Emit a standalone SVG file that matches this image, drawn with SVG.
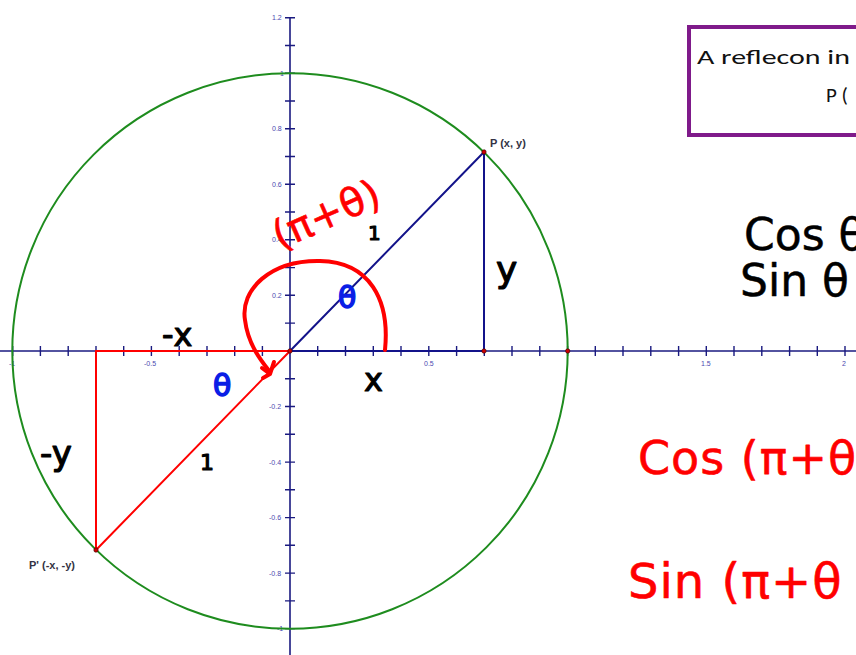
<svg xmlns="http://www.w3.org/2000/svg" width="856" height="655" viewBox="0 0 856 655">
<style>
.ax{stroke:#1a1a80;stroke-width:1.6;fill:none}
.tk{stroke:#1a1a80;stroke-width:1.4}
.tl{font-family:"Liberation Sans",Arial,sans-serif;font-size:7px;fill:#4a4ab0}
.pl{font-family:"Liberation Sans",Arial,sans-serif;font-size:11px;font-weight:bold;fill:#333344}
.hw{font-family:"DejaVu Sans","Liberation Sans",sans-serif;stroke-linejoin:round}
.blk{fill:#000;stroke:#000;stroke-width:1.2}
.red{fill:#f00;stroke:#f00;stroke-width:0.6}
.blu{fill:#0a1ee6;stroke:#0a1ee6;stroke-width:1.5}
.dot{fill:#cc0000;stroke:#330000;stroke-width:0.6}
</style>
<rect width="856" height="655" fill="#fff"/>
<g id="axes">
<line class="ax" x1="0" y1="351" x2="856" y2="351"/>
<line class="ax" x1="290" y1="17" x2="290" y2="655"/>
<path class="tk" d="M12.7 346v10M40.4 346v10M68.2 346v10M96 346v10M123.7 346v10M151.4 346v10M179.2 346v10M207 346v10M234.7 346v10M262.4 346v10M317.7 346v10M345.5 346v10M373.3 346v10M401 346v10M428.8 346v10M456.6 346v10M484.3 346v10M512 346v10M539.8 346v10M567.6 346v10M595.3 346v10M623 346v10M650.8 346v10M678.6 346v10M706.3 346v10M734 346v10M761.8 346v10M789.6 346v10M817.3 346v10M845 346v10"/>
<path class="tk" d="M285 17.7h10M285 45.5h10M285 73.2h10M285 101h10M285 128.8h10M285 156.5h10M285 184.3h10M285 212h10M285 239.8h10M285 267.6h10M285 295.3h10M285 323.1h10M285 378.8h10M285 406.5h10M285 434.3h10M285 462.1h10M285 489.8h10M285 517.6h10M285 545.3h10M285 573.1h10M285 600.9h10M285 628.6h10"/>
<text class="tl" x="9" y="366">-1</text>
<text class="tl" x="144" y="366">-0.5</text>
<text class="tl" x="424" y="366">0.5</text>
<text class="tl" x="701" y="366">1.5</text>
<text class="tl" x="842" y="366">2</text>
<text class="tl" x="272" y="20">1.2</text>
<text class="tl" x="280" y="75.5">1</text>
<text class="tl" x="272" y="131">0.8</text>
<text class="tl" x="272" y="186.5">0.6</text>
<text class="tl" x="272" y="242">0.4</text>
<text class="tl" x="272" y="297.5">0.2</text>
<text class="tl" x="269" y="409">-0.2</text>
<text class="tl" x="269" y="464.5">-0.4</text>
<text class="tl" x="269" y="520">-0.6</text>
<text class="tl" x="269" y="575.5">-0.8</text>
<text class="tl" x="277" y="631">-1</text>
</g>
<g id="circle"><circle cx="290" cy="351" r="277.7" fill="none" stroke="#1e8c1e" stroke-width="2"/></g>
<g id="connectors">
<path d="M290 351L484 152L484 351L290 351" fill="none" stroke="#13138a" stroke-width="2"/>
<path d="M290 351L96 550L96 351L290 351" fill="none" stroke="#ff0000" stroke-width="2"/>
<path d="M385 350C390 300 370 262 320 261C270 260 240 290 245 320C248 345 262 362 270 372" fill="none" stroke="#ff0000" stroke-width="4" stroke-linecap="round"/>
<path d="M262 368L270 374L263 378M270 374L274 362" fill="none" stroke="#ff0000" stroke-width="4" stroke-linecap="round" stroke-linejoin="round"/>
</g>
<g id="points">
<circle class="dot" cx="290" cy="351" r="2.2"/>
<circle class="dot" cx="484" cy="152" r="2.2"/>
<circle class="dot" cx="96" cy="550" r="2.2"/>
<circle class="dot" cx="484" cy="351" r="2.2"/>
<circle class="dot" cx="567.7" cy="351" r="2.2"/>
</g>
<g id="P"><text class="pl" x="490" y="147">P (x, y)</text></g>
<g id="Pprime"><text class="pl" x="29" y="569">P' (-x, -y)</text></g>
<g id="box">
<rect x="689" y="27" width="180" height="108" fill="#fff" stroke="#7f1a8a" stroke-width="4"/>
<text x="697" y="64" font-family="Carlito,'Liberation Sans',Arial,sans-serif" font-size="21" fill="#111" textLength="153" lengthAdjust="spacingAndGlyphs">A reflecon in</text>
<text x="826" y="102" font-family="Carlito,'Liberation Sans',Arial,sans-serif" font-size="21" fill="#111">P (</text>
</g>
<g id="handwriting">
<text class="hw red" x="280" y="250" font-size="40" stroke-width="1.5" transform="rotate(-24 280 250)">(π+θ)</text>
<text class="hw blk" x="368" y="240" font-size="20">1</text>
<text class="hw blk" x="496" y="282" font-size="36">y</text>
<text class="hw blu" x="338" y="308" font-size="30">θ</text>
<text class="hw blk" x="162" y="346" font-size="32">-x</text>
<text class="hw blk" x="364" y="391" font-size="32">x</text>
<text class="hw blu" x="213" y="396" font-size="30">θ</text>
<text class="hw blk" x="40" y="465" font-size="34">-y</text>
<text class="hw blk" x="200" y="470" font-size="22">1</text>
<text class="hw" x="744" y="250" font-size="44" fill="#000" stroke="#000" stroke-width="0.5">Cos θ</text>
<text class="hw" x="740" y="296" font-size="44" fill="#000" stroke="#000" stroke-width="0.5">Sin θ</text>
<text class="hw red" x="638" y="474" font-size="46" letter-spacing="1">Cos (π+θ</text>
<text class="hw red" x="628" y="598" font-size="48" letter-spacing="1">Sin (π+θ</text>
</g>
</svg>
